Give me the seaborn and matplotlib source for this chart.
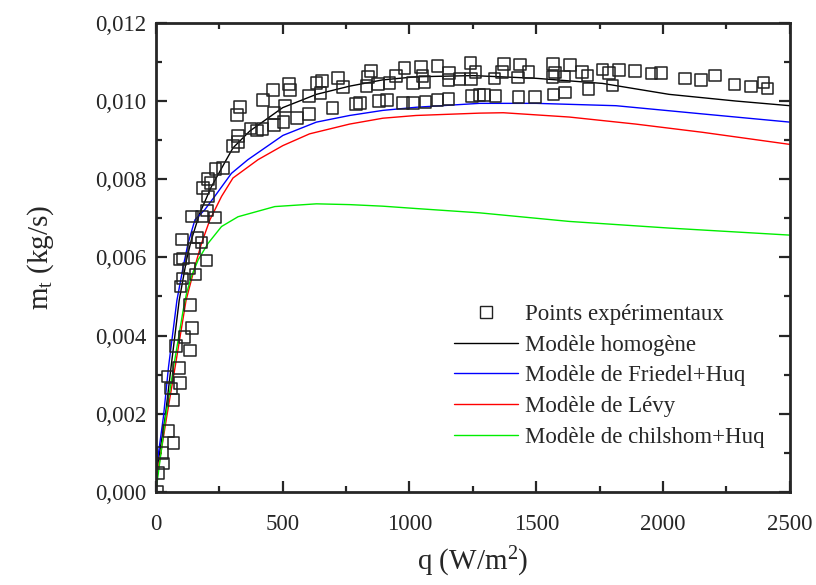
import numpy as np
import pandas as pd
import seaborn as sns
import matplotlib.pyplot as plt
from matplotlib.ticker import MultipleLocator, FuncFormatter
from matplotlib.lines import Line2D

# --- experimental points (q in W/m2, mass flow in kg/s) ---
exp_q = [5, 10, 28, 26, 70, 50, 70, 60, 96, 46, 92, 135, 79, 113, 142, 135,
         97, 105, 107, 94, 104, 130, 156, 142, 164, 150, 180, 200, 185, 205,
         215, 205, 201, 182, 233, 235, 264, 304, 325, 325, 319, 331, 373, 400,
         420, 423, 462, 465, 465, 504, 509, 526, 529, 556, 604, 604, 633, 655,
         649, 696, 719, 737, 790, 806, 831, 836, 849, 879, 877, 911, 921, 948,
         974, 980, 1013, 1013, 1046, 1052, 1059, 1063, 1110, 1111, 1154, 1156,
         1154, 1197, 1243, 1240, 1260, 1247, 1276, 1295, 1339, 1335, 1365, 1373,
         1427, 1436, 1430, 1470, 1495, 1567, 1575, 1564, 1568, 1614, 1612, 1633,
         1680, 1702, 1706, 1761, 1787, 1827, 1800, 1890, 1955, 1992, 2087, 2150,
         2205, 2281, 2346, 2396, 2412]
exp_m = [0.0000, 0.00048, 0.00073, 0.00100, 0.00126, 0.00156, 0.00235, 0.00265,
         0.00278, 0.00295, 0.00317, 0.00362, 0.00374, 0.00397, 0.00420, 0.00478,
         0.00526, 0.00546, 0.00597, 0.00595, 0.00646, 0.00572, 0.00556, 0.00705,
         0.00651, 0.00623, 0.00638, 0.00592, 0.00777, 0.00800, 0.00790, 0.00756,
         0.00720, 0.00705, 0.00702, 0.00826, 0.00828, 0.00885, 0.00895, 0.00910,
         0.00964, 0.00985, 0.00930, 0.00925, 0.00928, 0.01003, 0.01028, 0.00970,
         0.00938, 0.00946, 0.00987, 0.01044, 0.01028, 0.00956, 0.00967, 0.01013,
         0.01046, 0.01051, 0.01020, 0.00982, 0.01059, 0.01036, 0.00992, 0.00995,
         0.01038, 0.01062, 0.01077, 0.01000, 0.01044, 0.01003, 0.01046, 0.01064,
         0.00995, 0.01085, 0.00995, 0.01046, 0.01087, 0.01064, 0.01049, 0.00997,
         0.01003, 0.01090, 0.01054, 0.01072, 0.01005, 0.01056, 0.01056, 0.01098,
         0.01074, 0.01013, 0.01015, 0.01015, 0.01013, 0.01058, 0.01074, 0.01095,
         0.01060, 0.01093, 0.01011, 0.01074, 0.01010, 0.01094, 0.01073, 0.01062,
         0.01017, 0.01022, 0.01063, 0.01092, 0.01074, 0.01065, 0.01030, 0.01081,
         0.01071, 0.01079, 0.01040, 0.01076, 0.01070, 0.01071, 0.01058, 0.01053,
         0.01065, 0.01042, 0.01037, 0.01047, 0.01032]

# --- model curves ---
homog_q = [0, 37, 60, 92, 121, 140, 173, 219, 278, 304, 370, 500, 633, 764, 894,
           1026, 1250, 1500, 1761, 2024, 2286, 2500]
homog_m = [0.0004, 0.00193, 0.0032, 0.0049, 0.00594, 0.00645, 0.00713, 0.00781,
           0.0085, 0.0088, 0.00923, 0.00983, 0.01017, 0.01038, 0.01054, 0.01062,
           0.01065, 0.01058, 0.01045, 0.01017, 0.0100, 0.00988]

friedel_q = [0, 30, 50, 83, 108, 127, 154, 193, 232, 298, 363, 501, 633, 764, 895,
             1026, 1276, 1500, 1814, 2155, 2500]
friedel_m = [0.0005, 0.00193, 0.0032, 0.0049, 0.00577, 0.00636, 0.00696, 0.00722,
             0.00756, 0.00815, 0.0085, 0.00912, 0.00946, 0.00963, 0.00976, 0.00984,
             0.00994, 0.00994, 0.00988, 0.00967, 0.00946]

levy_q = [0, 43, 76, 119, 154, 180, 213, 259, 304, 403, 501, 606, 764, 895, 1026,
          1276, 1370, 1630, 1892, 2155, 2500]
levy_m = [0.0002, 0.00193, 0.0032, 0.0049, 0.00577, 0.00636, 0.00696, 0.00756,
          0.00803, 0.0085, 0.00886, 0.00916, 0.00941, 0.00956, 0.00963, 0.00969,
          0.0097, 0.00959, 0.00941, 0.0092, 0.00889]

chis_q = [0, 39, 70, 108, 121, 140, 167, 206, 259, 324, 469, 633, 764, 895, 1026,
          1276, 1630, 2024, 2500]
chis_m = [0.0, 0.00193, 0.0032, 0.00466, 0.00508, 0.00551, 0.00594, 0.00636,
          0.00679, 0.00704, 0.0073, 0.00737, 0.00735, 0.00731, 0.00725, 0.00714,
          0.00692, 0.00675, 0.00657]

labels = ["Points expérimentaux", "Modèle homogène", "Modèle de Friedel+Huq",
          "Modèle de Lévy", "Modèle de chilshom+Huq"]
colors = ["#000000", "#0000ff", "#ff0000", "#00ee00"]

sns.set_theme(style="ticks")
plt.rcParams['font.family'] = ['Liberation Serif', 'DejaVu Serif']
plt.rcParams['mathtext.default'] = 'regular'

fig = plt.figure(figsize=(8.16, 5.85), dpi=100)
ax = fig.add_axes([0.191, 0.159, 0.777, 0.802])

curves = [(homog_q, homog_m), (friedel_q, friedel_m), (levy_q, levy_m), (chis_q, chis_m)]
for (q, m), c in zip(curves, colors):
    sns.lineplot(x=q, y=m, color=c, lw=1.0, ax=ax, sort=False, estimator=None)

sns.scatterplot(x=exp_q, y=exp_m, marker="s", s=70, facecolor="none",
                edgecolor="#222222", linewidth=1.1, ax=ax, zorder=3)

ax.set_xlim(0, 2500)
ax.set_ylim(0, 0.012)
ax.xaxis.set_major_locator(MultipleLocator(500))
ax.xaxis.set_minor_locator(MultipleLocator(250))
ax.yaxis.set_major_locator(MultipleLocator(0.002))
ax.yaxis.set_minor_locator(MultipleLocator(0.001))
ax.yaxis.set_major_formatter(FuncFormatter(lambda v, p: f"{v:.3f}".replace(".", ",")))
ax.tick_params(which="both", direction="in", top=True, right=True, labelsize=16.5, width=1.6)
ax.tick_params(which="major", length=8)
ax.tick_params(axis="y", which="major", pad=7)
ax.tick_params(axis="x", which="major", pad=16)
ax.tick_params(which="minor", length=4)
for sp in ax.spines.values():
    sp.set_linewidth(2)
    sp.set_visible(True)

ax.set_xlabel("q (W/m$^2$)", fontsize=21, labelpad=7)
ax.set_ylabel("m$_t$ (kg/s)", fontsize=21, labelpad=28)

handles = [Line2D([], [], ls="none", marker="s", mfc="none", mec="#222222", ms=8)]
handles += [Line2D([], [], color=c, lw=1.0) for c in colors]
ax.legend(handles, labels, loc="upper left", bbox_to_anchor=(0.455, 0.42),
          frameon=False, fontsize=16.5, handlelength=2.8, handletextpad=0.3,
          labelspacing=0.42, borderaxespad=0)

fig.savefig("out.png", dpi=100)
